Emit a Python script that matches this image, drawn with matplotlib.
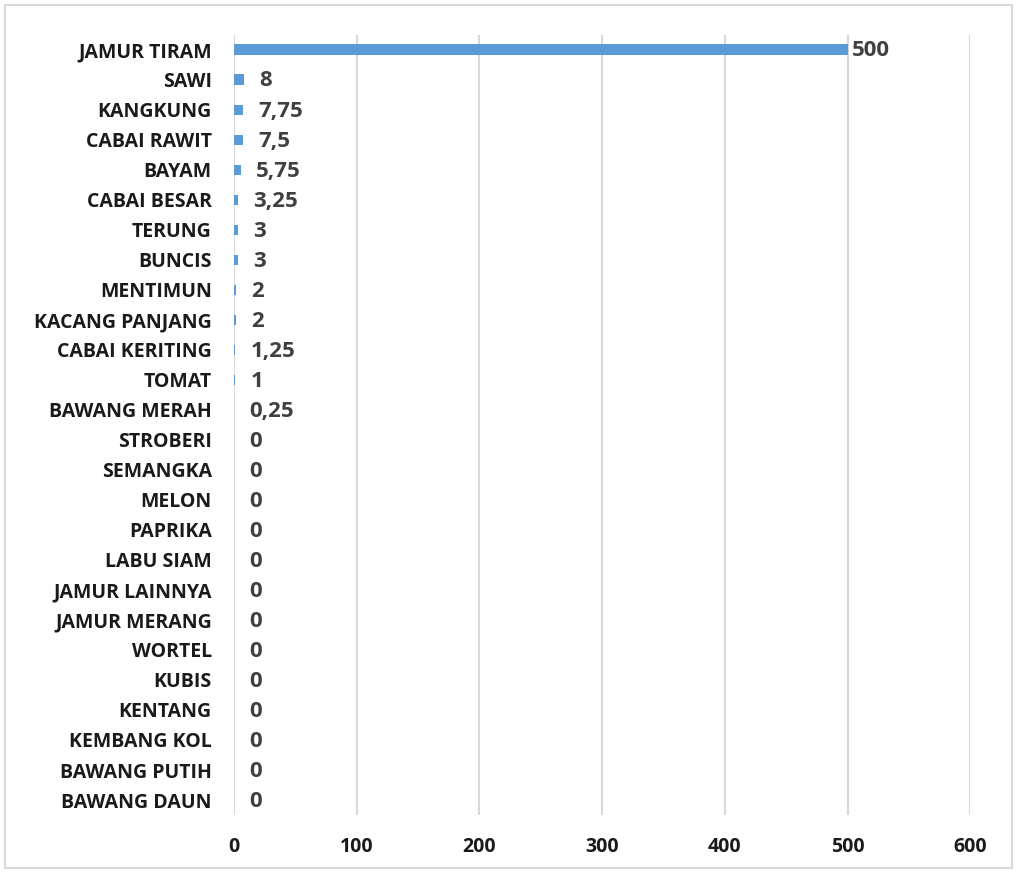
import matplotlib
matplotlib.use("Agg")
import matplotlib.pyplot as plt
from matplotlib.patches import Rectangle

categories = ["JAMUR TIRAM", "SAWI", "KANGKUNG", "CABAI RAWIT", "BAYAM", "CABAI BESAR",
              "TERUNG", "BUNCIS", "MENTIMUN", "KACANG PANJANG", "CABAI KERITING", "TOMAT",
              "BAWANG MERAH", "STROBERI", "SEMANGKA", "MELON", "PAPRIKA", "LABU SIAM",
              "JAMUR LAINNYA", "JAMUR MERANG", "WORTEL", "KUBIS", "KENTANG", "KEMBANG KOL",
              "BAWANG PUTIH", "BAWANG DAUN"]
values = [500, 8, 7.75, 7.5, 5.75, 3.25, 3, 3, 2, 2, 1.25, 1, 0.25,
          0, 0, 0, 0, 0, 0, 0, 0, 0, 0, 0, 0, 0]
xticks = [0, 100, 200, 300, 400, 500, 600]

plt.rcParams['font.family'] = ['Open Sans', 'DejaVu Sans']

fig = plt.figure(figsize=(10.17, 8.73), dpi=100)
ax = fig.add_axes([0.230, 0.0664, 0.724, 0.894])

ypos = list(range(len(categories)))
ax.barh(ypos, values, height=0.34, color="#5B9BD5", zorder=3)
ax.set_ylim(len(categories) - 0.5, -0.5)
ax.set_xlim(0, 600)
ax.set_xticks(xticks)
ax.set_xticklabels([str(t) for t in xticks], fontsize=14, fontweight='bold', color='#1a1a1a')
ax.set_yticks(ypos)
ax.set_yticklabels(categories, fontsize=14, fontweight='bold', color='#1a1a1a')
ax.tick_params(axis='both', length=0)
ax.tick_params(axis='y', pad=16)
ax.tick_params(axis='x', pad=16)
ax.grid(axis='x', color='#D9D9D9', linewidth=1.5, zorder=0)
for s in ax.spines.values():
    s.set_visible(False)

def fmt(v):
    if float(v).is_integer():
        return str(int(v))
    return ("%g" % v).replace(".", ",")

vmax = max(values)
for y, v in zip(ypos, values):
    off = 3 if v == vmax else 11
    ax.annotate(fmt(v), xy=(v, y), xytext=(off, -1), textcoords='offset points',
                ha='left', va='center', fontsize=16, color='#404040', fontweight='bold')

fig.patches.append(Rectangle((0.005, 0.006), 0.99, 0.988, transform=fig.transFigure,
                             fill=False, edgecolor='#D9D9D9', linewidth=1.5))

fig.savefig("out.png", dpi=100)
